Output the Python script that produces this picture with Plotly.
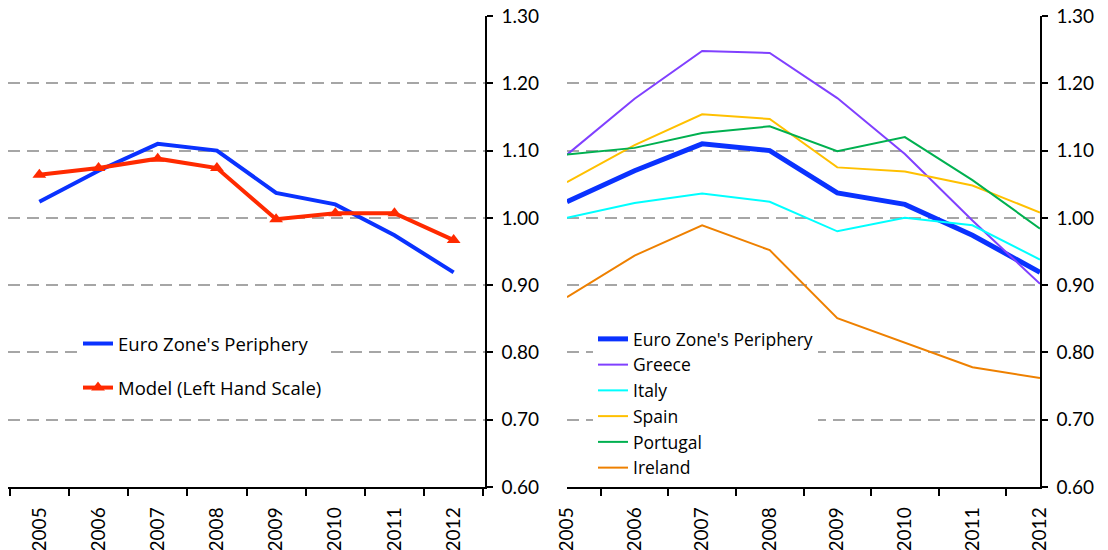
import plotly.graph_objects as go

years = ["2005", "2006", "2007", "2008", "2009", "2010", "2011", "2012"]

periphery = [1.024, 1.070, 1.110, 1.100, 1.037, 1.020, 0.974, 0.919]
model = [1.064, 1.074, 1.088, 1.074, 0.998, 1.007, 1.007, 0.967]

greece = [1.094, 1.177, 1.248, 1.245, 1.178, 1.095, 0.996, 0.902]
italy = [1.000, 1.022, 1.036, 1.024, 0.980, 1.000, 0.989, 0.938]
spain = [1.053, 1.108, 1.154, 1.147, 1.075, 1.069, 1.048, 1.008]
portugal = [1.094, 1.104, 1.126, 1.136, 1.099, 1.120, 1.056, 0.984]
ireland = [0.882, 0.944, 0.989, 0.952, 0.851, 0.815, 0.778, 0.762]

y_ticks = [0.6, 0.7, 0.8, 0.9, 1.0, 1.1, 1.2, 1.3]

FONT = "Lato"
LFONT = "Open Sans"
FS = 19
BLUE = "#0A32FF"
RED = "#FF2A00"

W, H = 1108, 550

fig = go.Figure()

# Left panel
fig.add_trace(go.Scatter(x=years, y=periphery, name="Euro Zone's Periphery", mode="lines",
                         line=dict(color=BLUE, width=4), xaxis="x", yaxis="y",
                         legend="legend", legendgroup="a"))
fig.add_trace(go.Scatter(x=years, y=model, name="Model (Left Hand Scale)", mode="lines+markers",
                         line=dict(color=RED, width=4),
                         marker=dict(symbol="triangle-up", size=12, color=RED),
                         xaxis="x", yaxis="y", legend="legend", legendgroup="b"))

# Right panel
right_series = [
    ("Euro Zone's Periphery", periphery, BLUE, 5),
    ("Greece", greece, "#8040FF", 2),
    ("Italy", italy, "#00FFFF", 2),
    ("Spain", spain, "#FFC000", 2),
    ("Portugal", portugal, "#00B050", 2),
    ("Ireland", ireland, "#EE8000", 2),
]
for name, vals, col, w in right_series:
    fig.add_trace(go.Scatter(x=years, y=vals, name=name, mode="lines",
                             line=dict(color=col, width=w), xaxis="x2", yaxis="y2",
                             legend="legend2"))

xcommon = dict(type="category", tickson="boundaries", ticks="outside", ticklen=7,
               tickcolor="black", tickwidth=1.5, showline=True, linecolor="black", linewidth=1.5,
               showgrid=False, tickangle=-90, tickfont=dict(family=FONT, size=FS, color="black"),
               ticklabelstandoff=11, fixedrange=True, automargin=False)
ycommon = dict(range=[0.6, 1.3], tickvals=y_ticks, tickformat=".2f", side="right",
               ticks="outside", ticklen=6, tickcolor="black", tickwidth=1.5,
               showline=True, linecolor="black", linewidth=1.5,
               showgrid=True, gridcolor="#A6A6A6", gridwidth=1.5, griddash="12px,7px",
               zeroline=False, tickfont=dict(family=FONT, size=FS, color="black"),
               ticklabelstandoff=5, domain=[63 / H, 1 - 16 / H], fixedrange=True,
               automargin=False)

fig.update_layout(
    template="none",
    width=W, height=H,
    margin=dict(l=0, r=0, t=0, b=0, autoexpand=False),
    paper_bgcolor="white", plot_bgcolor="white",
    xaxis=dict(domain=[8 / W, 485 / W], anchor="y", **xcommon),
    yaxis=dict(anchor="x", **ycommon),
    xaxis2=dict(domain=[567 / W, 1040 / W], anchor="y2", **xcommon),
    yaxis2=dict(anchor="x2", **ycommon),
    legend=dict(x=78 / W, y=1 - 325 / H, xanchor="left", yanchor="top",
                bgcolor="white", borderwidth=0, tracegroupgap=17,
                font=dict(family=LFONT, size=18.5, color="black")),
    legend2=dict(x=593 / W, y=1 - 321 / H, xanchor="left", yanchor="top",
                 bgcolor="white", borderwidth=0,
                 font=dict(family=LFONT, size=17.5, color="black")),
    showlegend=True,
)

fig.write_html("out.html", config={"displayModeBar": False},
               post_script="document.body.style.margin='0';document.body.style.padding='0';")
